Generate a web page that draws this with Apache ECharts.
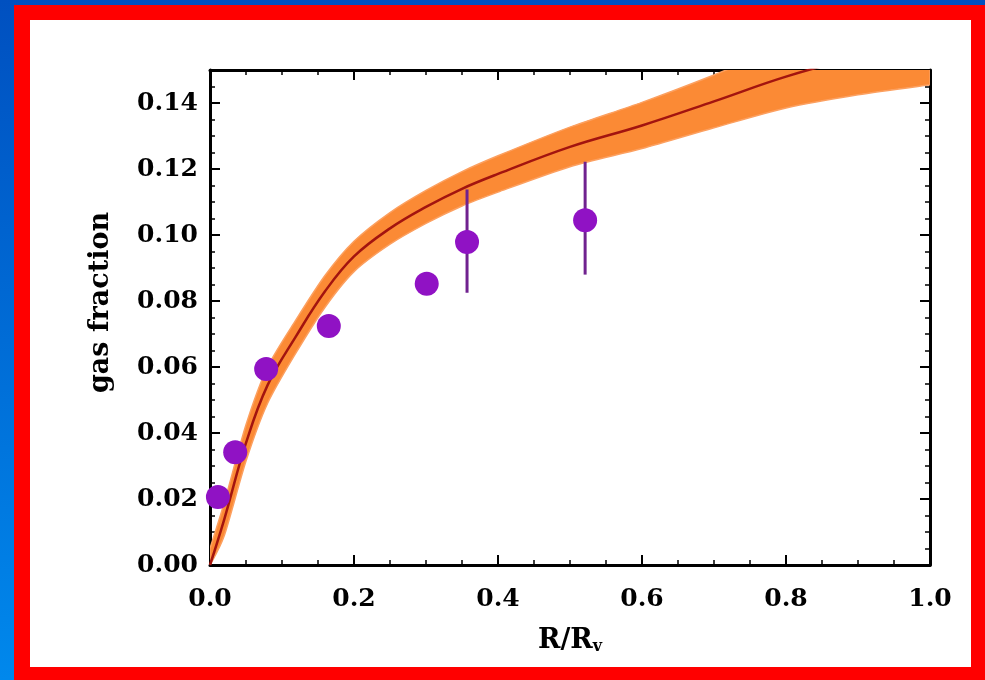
<!DOCTYPE html>
<html>
<head>
<meta charset="utf-8">
<title>gas fraction</title>
<script src="https://cdn.jsdelivr.net/npm/echarts@6/dist/echarts.min.js"></script>
<style>
  html, body {
    margin: 0;
    padding: 0;
    width: 985px;
    height: 680px;
    overflow: hidden;
    background: linear-gradient(#0050c0, #0088ec);
  }
  /* red frame + white card */
  #frame {
    position: absolute;
    left: 14px;
    top: 5px;
    width: 971px;
    height: 675px;
    background: #ff0000;
  }
  #card {
    position: absolute;
    left: 30px;
    top: 20px;
    width: 941px;
    height: 647px;
    background: #ffffff;
  }
  #chart {
    position: absolute;
    left: 0;
    top: 0;
    width: 985px;
    height: 680px;
  }
</style>
</head>
<body>
<div id="frame"></div>
<div id="card"></div>
<div id="chart"></div>
<script>
// model curve and its uncertainty band
var modelX    = [0, 0.02, 0.05, 0.08, 0.12, 0.16, 0.2, 0.25, 0.3, 0.35, 0.4, 0.5, 0.6, 0.7, 0.8, 0.9, 1.0];
var modelY    = [0, 0.014, 0.037, 0.0545, 0.0695, 0.083, 0.0935, 0.102, 0.1085, 0.114, 0.1185, 0.1267, 0.1332, 0.1405, 0.148, 0.154, 0.159];
var bandLow   = [0, 0.009, 0.0315, 0.049, 0.0645, 0.0782, 0.0889, 0.0972, 0.1035, 0.1088, 0.113, 0.1207, 0.1262, 0.1325, 0.1385, 0.1425, 0.1455];
var bandHigh  = [0.005, 0.019, 0.0425, 0.06, 0.0745, 0.0878, 0.0981, 0.1068, 0.1135, 0.1192, 0.124, 0.1327, 0.1402, 0.1485, 0.1575, 0.165, 0.172];

// measured points
var pointX = [0.011, 0.035, 0.078, 0.165, 0.301, 0.357, 0.521];
var pointY = [0.0206, 0.0342, 0.0594, 0.0724, 0.0852, 0.0979, 0.1045];
// error bars: x, low, high
var errX    = [0.357, 0.521];
var errLow  = [0.0825, 0.088];
var errHigh = [0.1138, 0.1222];

var xTickLabels = ['0.0', '0.2', '0.4', '0.6', '0.8', '1.0'];
var yTickLabels = ['0.00', '0.02', '0.04', '0.06', '0.08', '0.10', '0.12', '0.14'];

var FONT = 'DejaVu Serif';

function zip(a, b) {
  var out = [];
  for (var i = 0; i < a.length; i++) out.push([a[i], b[i]]);
  return out;
}

// catmull-rom -> bezier path through pixel points (drawing only)
function splinePath(pts, start) {
  var d = start ? 'M' + pts[0][0] + ',' + pts[0][1] : 'L' + pts[0][0] + ',' + pts[0][1];
  var t = 0.8;
  for (var i = 0; i < pts.length - 1; i++) {
    var p0 = pts[i - 1] || pts[i];
    var p1 = pts[i];
    var p2 = pts[i + 1];
    var p3 = pts[i + 2] || p2;
    var c1x = p1[0] + (p2[0] - p0[0]) / 6 * t;
    var c1y = p1[1] + (p2[1] - p0[1]) / 6 * t;
    var c2x = p2[0] - (p3[0] - p1[0]) / 6 * t;
    var c2y = p2[1] - (p3[1] - p1[1]) / 6 * t;
    d += ' C' + c1x + ',' + c1y + ' ' + c2x + ',' + c2y + ' ' + p2[0] + ',' + p2[1];
  }
  return d;
}

var errData = [];
for (var j = 0; j < errX.length; j++) {
  errData.push([errX[j], errLow[j], errHigh[j]]);
}

var labelStyle = {
  fontFamily: FONT,
  fontWeight: 'bold',
  fontSize: 25,
  color: '#000'
};

function axisCommon() {
  return {
    axisLine: { show: true, onZero: false, lineStyle: { color: '#000', width: 3 } },
    axisTick: { show: true, inside: true, length: 10, lineStyle: { color: '#000', width: 2 } },
    minorTick: { show: true, splitNumber: 4, length: 5, lineStyle: { color: '#000', width: 1.5 } },
    splitLine: { show: false },
    minorSplitLine: { show: false }
  };
}

var oChart = echarts.init(document.getElementById('chart'));

oChart.setOption({
  backgroundColor: 'transparent',
  animation: false,
  grid: { left: 210, right: 55, top: 70, bottom: 115 },
  xAxis: [
    Object.assign(axisCommon(), {
      type: 'value', min: 0, max: 1, interval: 0.2, position: 'bottom',
      axisLabel: Object.assign({}, labelStyle, {
        margin: 22,
        formatter: function (v) { return xTickLabels[Math.round(v / 0.2)] || ''; }
      }),
      name: 'R/R{s|v}',
      nameLocation: 'middle',
      nameGap: 62,
      nameTextStyle: Object.assign({}, labelStyle, {
        fontSize: 27,
        rich: {
          s: { fontFamily: FONT, fontWeight: 'bold', fontSize: 16, color: '#000', verticalAlign: 'bottom', padding: [12, 0, 0, 0] }
        }
      })
    }),
    Object.assign(axisCommon(), {
      type: 'value', min: 0, max: 1, interval: 0.2, position: 'top',
      axisLabel: { show: false }
    })
  ],
  yAxis: [
    Object.assign(axisCommon(), {
      type: 'value', min: 0, max: 0.15, interval: 0.02, position: 'left',
      axisLabel: Object.assign({}, labelStyle, {
        margin: 12,
        formatter: function (v) {
          var k = Math.round(v / 0.02);
          if (Math.abs(v - k * 0.02) > 1e-6) return '';
          return yTickLabels[k] || '';
        }
      }),
      name: 'gas fraction',
      nameLocation: 'middle',
      nameGap: 96,
      nameTextStyle: Object.assign({}, labelStyle, { fontSize: 27, padding: [0, 0, 0, 30] })
    }),
    Object.assign(axisCommon(), {
      type: 'value', min: 0, max: 0.15, interval: 0.02, position: 'right',
      axisLabel: { show: false }
    })
  ],
  series: [
    {
      // orange band: lower edge forward, upper edge back
      name: 'band',
      type: 'custom',
      clip: true,
      data: [0],
      z: 1,
      renderItem: function (params, api) {
        var lo = [], hi = [];
        for (var i = 0; i < modelX.length; i++) lo.push(api.coord([modelX[i], bandLow[i]]));
        for (var k = modelX.length - 1; k >= 0; k--) hi.push(api.coord([modelX[k], bandHigh[k]]));
        return {
          type: 'path',
          shape: { pathData: splinePath(lo, true) + ' ' + splinePath(hi, false) + ' Z' },
          style: { fill: '#fb8a35', stroke: '#fca060', lineWidth: 1.5 }
        };
      }
    },
    {
      name: 'model',
      type: 'line',
      smooth: 0.4,
      symbol: 'none',
      lineStyle: { color: '#a3140f', width: 2.5 },
      data: zip(modelX, modelY),
      z: 2
    },
    {
      name: 'errors',
      type: 'custom',
      data: errData,
      z: 3,
      renderItem: function (params, api) {
        var top = api.coord([api.value(0), api.value(2)]);
        var bot = api.coord([api.value(0), api.value(1)]);
        return {
          type: 'line',
          shape: { x1: top[0], y1: top[1], x2: bot[0], y2: bot[1] },
          style: { stroke: '#70228f', lineWidth: 3 }
        };
      }
    },
    {
      name: 'points',
      type: 'scatter',
      symbol: 'circle',
      symbolSize: 24,
      itemStyle: { color: '#9012c4', opacity: 1 },
      data: zip(pointX, pointY),
      z: 4
    }
  ]
});
</script>
</body>
</html>
